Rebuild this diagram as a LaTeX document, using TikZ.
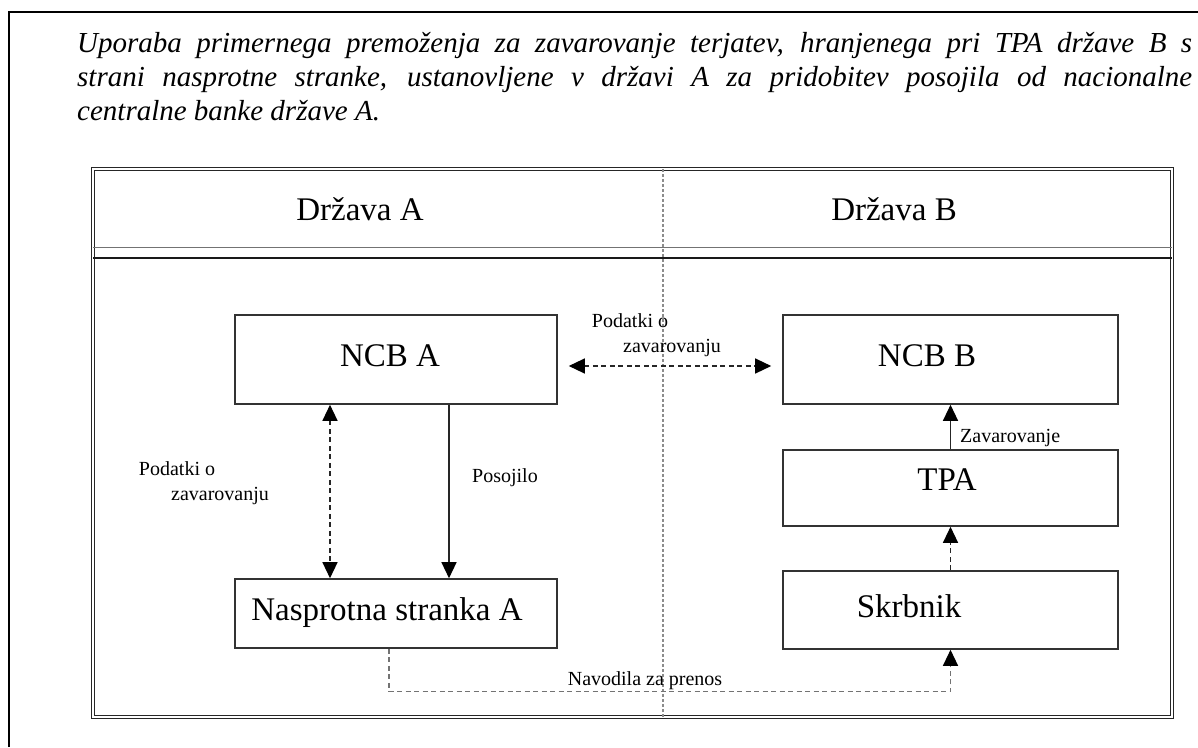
\documentclass[tikz,border=0pt]{standalone}
\usepackage{fontspec}
\setmainfont{Liberation Serif}
\usetikzlibrary{arrows.meta}

\tikzset{
  okvir/.style={draw=black!80, line width=1.6pt, inner sep=0pt},
  velik/.style={font=\fontsize{33}{38}\selectfont, anchor=base, inner sep=0pt},
  mali/.style={font=\fontsize{20}{24}\selectfont, anchor=base, inner sep=0pt},
  naslov/.style={font=\fontsize{29}{34}\selectfont\itshape, anchor=base west, inner sep=0pt},
  strelica/.style={line width=1.3pt, draw=black!85},
  crtkano/.style={dash pattern=on 5pt off 3.5pt},
  >={Triangle[length=16pt,width=15pt,color=black]}
}

\begin{document}
\begin{tikzpicture}[x=1pt,y=-1pt]
\useasboundingbox (0,0) rectangle (1198,747);

% zunanji okvir
\draw[line width=2pt] (9,747) -- (9,12) -- (1198,12);

\node[naslov] (naslov1) at (77,52) {\makebox[1115pt][s]{Uporaba primernega premoženja za zavarovanje terjatev, hranjenega pri TPA države B s}};
\node[naslov] (naslov2) at (77,86) {\makebox[1115pt][s]{strani nasprotne stranke, ustanovljene v državi A za pridobitev posojila od nacionalne}};
\node[naslov] (naslov3) at (77,120) {centralne banke države A.};

% okvir sheme
\draw[double, double distance=1.6pt, line width=1.1pt, draw=black!85] (93,169) rectangle (1172,717);
\draw[black!55, line width=1pt] (93,247) -- (1172,247);
\draw[black!90, line width=1.8pt] (93,258) -- (1172,258);
\draw[black!45, line width=1.6pt, dash pattern=on 3pt off 2pt] (663,169) -- (663,717);

\node[velik] (drzavaa) at (360,220) {Država A};
\node[velik] (drzavab) at (894,220) {Država B};

% skatle
\node[okvir, minimum width=322pt, minimum height=89pt] (ncba) at (396,359.5) {};
\node[okvir, minimum width=335pt, minimum height=89pt] (ncbb) at (950.5,359.5) {};
\node[okvir, minimum width=335pt, minimum height=76pt] (tpa) at (950.5,488) {};
\node[okvir, minimum width=335pt, minimum height=78pt] (skrbnik) at (950.5,610) {};
\node[okvir, minimum width=322pt, minimum height=69pt] (naspr) at (396,613.5) {};

\node[velik] (ncbatxt) at (390,366) {NCB A};
\node[velik] (ncbbtxt) at (927,366) {NCB B};
\node[velik] (tpatxt) at (947,490) {TPA};
\node[velik] (skrbniktxt) at (909,617) {Skrbnik};
\node[velik] (nasprtxt) at (387,620) {Nasprotna stranka A};

% povezave
\draw[strelica, crtkano, <->, shorten <=11pt, shorten >=11pt] ([yshift=-6.5pt]ncba.east) -- ([yshift=-6.5pt]ncbb.west);
\draw[strelica, crtkano, <->] ([xshift=-66pt]ncba.south) -- ([xshift=-66pt]naspr.north);
\draw[strelica, ->] ([xshift=53pt]ncba.south) -- ([xshift=53pt]naspr.north);
\draw[strelica, ->] (tpa.north) -- (ncbb.south);
\draw[strelica, crtkano, ->] (skrbnik.north) -- (tpa.south);
\draw[strelica, crtkano, draw=black!55, ->] ([xshift=-7pt]naspr.south) -- ++(0,43) -| (skrbnik.south);

\node[mali] (podatki1) at (630,327) {Podatki o};
\node[mali] (zavar1) at (672,352) {zavarovanju};
\node[mali] (podatki2) at (177,475) {Podatki o};
\node[mali] (zavar2) at (220,500) {zavarovanju};
\node[mali] (posojilo) at (505,482) {Posojilo};
\node[mali, anchor=base west] (zavarovanje) at (960,442) {Zavarovanje};
\node[mali] (navodila) at (645,685) {Navodila za prenos};
\end{tikzpicture}
\end{document}
